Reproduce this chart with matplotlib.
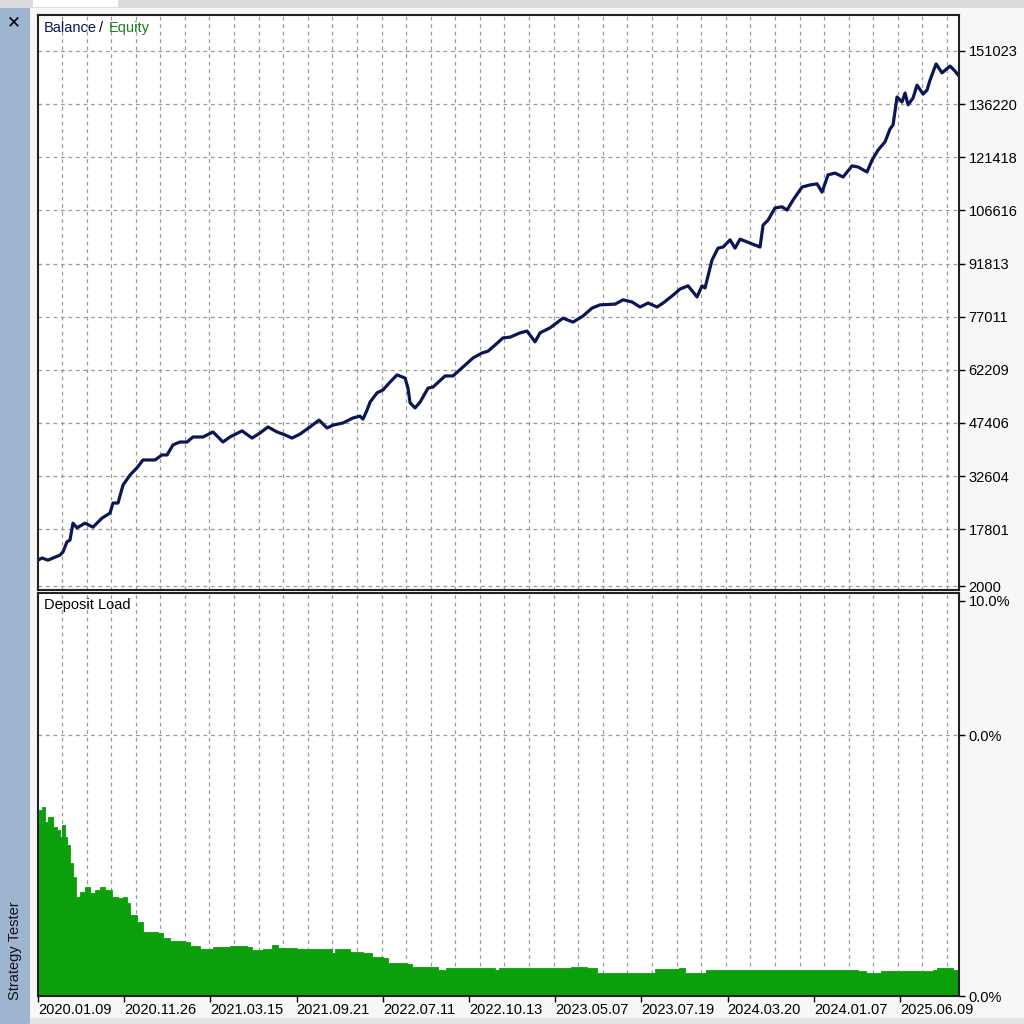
import numpy as np
import matplotlib.pyplot as plt
from matplotlib.ticker import FixedLocator
from matplotlib.patches import Rectangle

# ---- data (t = position in date-label units) ----
bal_t = [0, 0.046, 0.116, 0.174, 0.255, 0.290, 0.336, 0.371, 0.406, 0.452,
         0.545, 0.638, 0.742, 0.835, 0.870, 0.928, 0.986, 1.067, 1.148, 1.218,
         1.357, 1.439, 1.497, 1.566, 1.647, 1.729, 1.798, 1.914, 2.030, 2.146,
         2.227, 2.367, 2.483, 2.575, 2.668, 2.773, 2.842, 2.947, 3.039, 3.155,
         3.260, 3.353, 3.422, 3.538, 3.654, 3.735, 3.770, 3.817, 3.852, 3.933,
         4.002, 4.084, 4.165, 4.258, 4.292, 4.316, 4.374, 4.432, 4.524, 4.582,
         4.722, 4.814, 4.930, 5.046, 5.151, 5.220, 5.302, 5.394, 5.476, 5.592,
         5.673, 5.766, 5.824, 5.940, 6.090, 6.206, 6.323, 6.427, 6.520, 6.694,
         6.787, 6.891, 6.984, 7.077, 7.181, 7.251, 7.367, 7.448, 7.541, 7.645,
         7.703, 7.738, 7.819, 7.889, 7.947, 8.028, 8.086, 8.144, 8.260, 8.376,
         8.411, 8.469, 8.550, 8.631, 8.689, 8.759, 8.863, 8.956, 9.037, 9.095,
         9.165, 9.246, 9.339, 9.443, 9.513, 9.617, 9.675, 9.745, 9.826, 9.884,
         9.919, 9.965, 10.023, 10.058, 10.093, 10.151, 10.197, 10.267, 10.313, 10.348,
         10.418, 10.487, 10.580, 10.638, 10.684]
balance = [9200, 9800, 9200, 9800, 10600, 11500, 14300, 14800, 19500, 18200,
           19500, 18400, 20900, 22300, 25100, 25100, 30100, 32900, 34900, 37100,
           37100, 38500, 38500, 41300, 42100, 42100, 43500, 43500, 44900, 42100,
           43500, 45200, 43200, 44600, 46300, 44900, 44300, 43200, 44300, 46300,
           48200, 46000, 46800, 47400, 48800, 49300, 48500, 51000, 53200, 55800,
           56600, 58800, 60800, 59900, 57100, 53000, 51600, 53200, 57100, 57400,
           60500, 60500, 63000, 65500, 66900, 67400, 69100, 71100, 71300, 72500,
           73000, 70000, 72500, 73900, 76600, 75500, 77200, 79400, 80300, 80500,
           81700, 81100, 79700, 80800, 79700, 80800, 83000, 84700, 85600, 82500,
           85600, 85000, 92800, 96100, 96400, 98400, 96100, 98600, 97500, 96400,
           102500, 103900, 107300, 107600, 106700, 109500, 113100, 113700, 114000, 111700,
           116500, 117000, 115900, 119000, 118700, 117300, 120600, 123400, 125700, 129300,
           130400, 138200, 136800, 139300, 136000, 137900, 141500, 139000, 140100, 142900,
           147400, 144900, 146800, 145400, 144000]

load_t = [0, 0.012, 0.046, 0.081, 0.116, 0.162, 0.174, 0.220, 0.255, 0.278,
          0.313, 0.336, 0.371, 0.406, 0.441, 0.487, 0.545, 0.603, 0.661, 0.719,
          0.777, 0.858, 0.928, 0.986, 1.032, 1.067, 1.148, 1.218, 1.392, 1.450,
          1.531, 1.705, 1.763, 1.879, 2.030, 2.227, 2.425, 2.483, 2.610, 2.715,
          2.784, 3.005, 3.364, 3.411, 3.445, 3.561, 3.619, 3.770, 3.875, 4.002,
          4.060, 4.281, 4.339, 4.582, 4.640, 4.733, 5.267, 5.302, 5.348, 6.183,
          6.369, 6.485, 7.065, 7.158, 7.436, 7.506, 7.703, 7.749, 9.513, 9.606,
          9.745, 9.780, 10.383, 10.429, 10.615, 10.661, 10.684]
load = [4.40, 4.71, 4.78, 4.40, 4.53, 4.53, 4.28, 4.20, 4.02, 4.33,
        4.02, 3.82, 3.37, 3.01, 2.51, 2.63, 2.76, 2.61, 2.68, 2.76,
        2.68, 2.51, 2.48, 2.51, 2.35, 2.05, 1.87, 1.62, 1.59, 1.47,
        1.39, 1.37, 1.27, 1.19, 1.24, 1.27, 1.24, 1.16, 1.19, 1.29,
        1.21, 1.19, 1.19, 1.09, 1.19, 1.19, 1.11, 1.09, 0.99, 0.96,
        0.84, 0.81, 0.73, 0.73, 0.66, 0.71, 0.71, 0.66, 0.71, 0.73,
        0.71, 0.58, 0.58, 0.68, 0.71, 0.58, 0.58, 0.66, 0.63, 0.58,
        0.58, 0.63, 0.66, 0.71, 0.66, 0.58, 0.58]

bal_ticks = [2000, 17801, 32604, 47406, 62209, 77011, 91813, 106616, 121418, 136220, 151023]
date_labels = ["2020.01.09", "2020.11.26", "2021.03.15", "2021.09.21", "2022.07.11",
               "2022.10.13", "2023.05.07", "2023.07.19", "2024.03.20", "2024.01.07",
               "2025.06.09"]
load_ticks = [0, 6.6, 10.0]
load_labels = ["0.0%", "0.0%", "10.0%"]

FONT = "Liberation Sans"
navy = "#0b1655"
green = "#0c9f0c"
grid_kw = dict(color="#9a9a9a", linestyle=(0, (3, 3)), linewidth=0.9)

fig = plt.figure(figsize=(10.24, 10.24), dpi=100)
fig.patch.set_facecolor("#f7f7f7")

# window chrome
fig.patches.append(Rectangle((0, 0), 30 / 1024, 1, transform=fig.transFigure,
                             facecolor="#9db5d1", edgecolor="none", zorder=0))
fig.patches.append(Rectangle((0, 1 - 8 / 1024), 1, 8 / 1024, transform=fig.transFigure,
                             facecolor="#dcdcdc", edgecolor="none", zorder=0))
fig.patches.append(Rectangle((33 / 1024, 1 - 7 / 1024), 85 / 1024, 7 / 1024,
                             transform=fig.transFigure, facecolor="white",
                             edgecolor="none", zorder=1))
fig.patches.append(Rectangle((30 / 1024, 0), 1, 6 / 1024, transform=fig.transFigure,
                             facecolor="#e4e4e4", edgecolor="none", zorder=0))
fig.text(14 / 1024, 1 - 22 / 1024, "\u2715", fontsize=12, ha="center", va="center",
         color="black", family="DejaVu Sans")
fig.text(15 / 1024, 1 - 951 / 1024, "Strategy Tester", fontsize=10.5, rotation=90,
         ha="center", va="center", family=FONT, color="#111111")

gridx = np.arange(0.278, 10.65, 0.2852)

# ---- balance / equity ----
ax1 = fig.add_axes([38 / 1024, 1 - 590 / 1024, 921 / 1024, 575 / 1024])
ax1.set_facecolor("white")
ax1.set_axisbelow(True)
ax1.plot(bal_t, balance, color=navy, linewidth=2.3, solid_joinstyle="round")
ax1.set_xlim(0, 10.684)
ax1.set_ylim(886, 161024)
ax1.yaxis.tick_right()
ax1.set_yticks(bal_ticks)
ax1.set_yticklabels([str(v) for v in bal_ticks], family=FONT, fontsize=10.5)
ax1.tick_params(axis="y", length=4, width=1, pad=3, colors="black")
ax1.set_xticks([])
ax1.xaxis.set_minor_locator(FixedLocator(gridx))
ax1.tick_params(axis="x", which="minor", length=0)
ax1.grid(True, axis="y", which="major", **grid_kw)
ax1.grid(True, axis="x", which="minor", **grid_kw)
for s in ax1.spines.values():
    s.set_linewidth(1.5)
    s.set_color("#222222")
ax1.text(0.006, 0.978, "Balance", transform=ax1.transAxes, color=navy,
         fontsize=10.5, family=FONT, ha="left", va="center")
ax1.text(0.0665, 0.978, "/", transform=ax1.transAxes, color="black",
         fontsize=10.5, family=FONT, ha="left", va="center")
ax1.text(0.0765, 0.978, "Equity", transform=ax1.transAxes, color="#1b7d1b",
         fontsize=10.5, family=FONT, ha="left", va="center")

# ---- deposit load ----
ax2 = fig.add_axes([38 / 1024, 1 - 996 / 1024, 921 / 1024, 403 / 1024])
ax2.set_facecolor("white")
ax2.set_axisbelow(True)
ax2.fill_between(load_t, load, 0, step="post", color=green, linewidth=0.6,
                 edgecolor=green, zorder=3)
ax2.set_xlim(0, 10.684)
ax2.set_ylim(0, 10.2)
ax2.yaxis.tick_right()
ax2.set_yticks(load_ticks)
ax2.set_yticklabels(load_labels, family=FONT, fontsize=10.5)
ax2.tick_params(axis="y", length=4, width=1, pad=3, colors="black")
ax2.set_xticks(range(len(date_labels)))
ax2.set_xticklabels(date_labels, family=FONT, fontsize=10.5, ha="left")
ax2.tick_params(axis="x", length=4, width=1, pad=1)
ax2.xaxis.set_minor_locator(FixedLocator(gridx))
ax2.tick_params(axis="x", which="minor", length=0)
ax2.grid(True, axis="x", which="minor", **grid_kw)
ax2.axhline(6.6, zorder=1, **grid_kw)
for s in ax2.spines.values():
    s.set_linewidth(1.5)
    s.set_color("#222222")
    s.set_zorder(5)
ax2.text(0.006, 0.97, "Deposit Load", transform=ax2.transAxes, color="black",
         fontsize=10.5, family=FONT, ha="left", va="center")

fig.savefig("out.png", dpi=100, facecolor=fig.get_facecolor())
